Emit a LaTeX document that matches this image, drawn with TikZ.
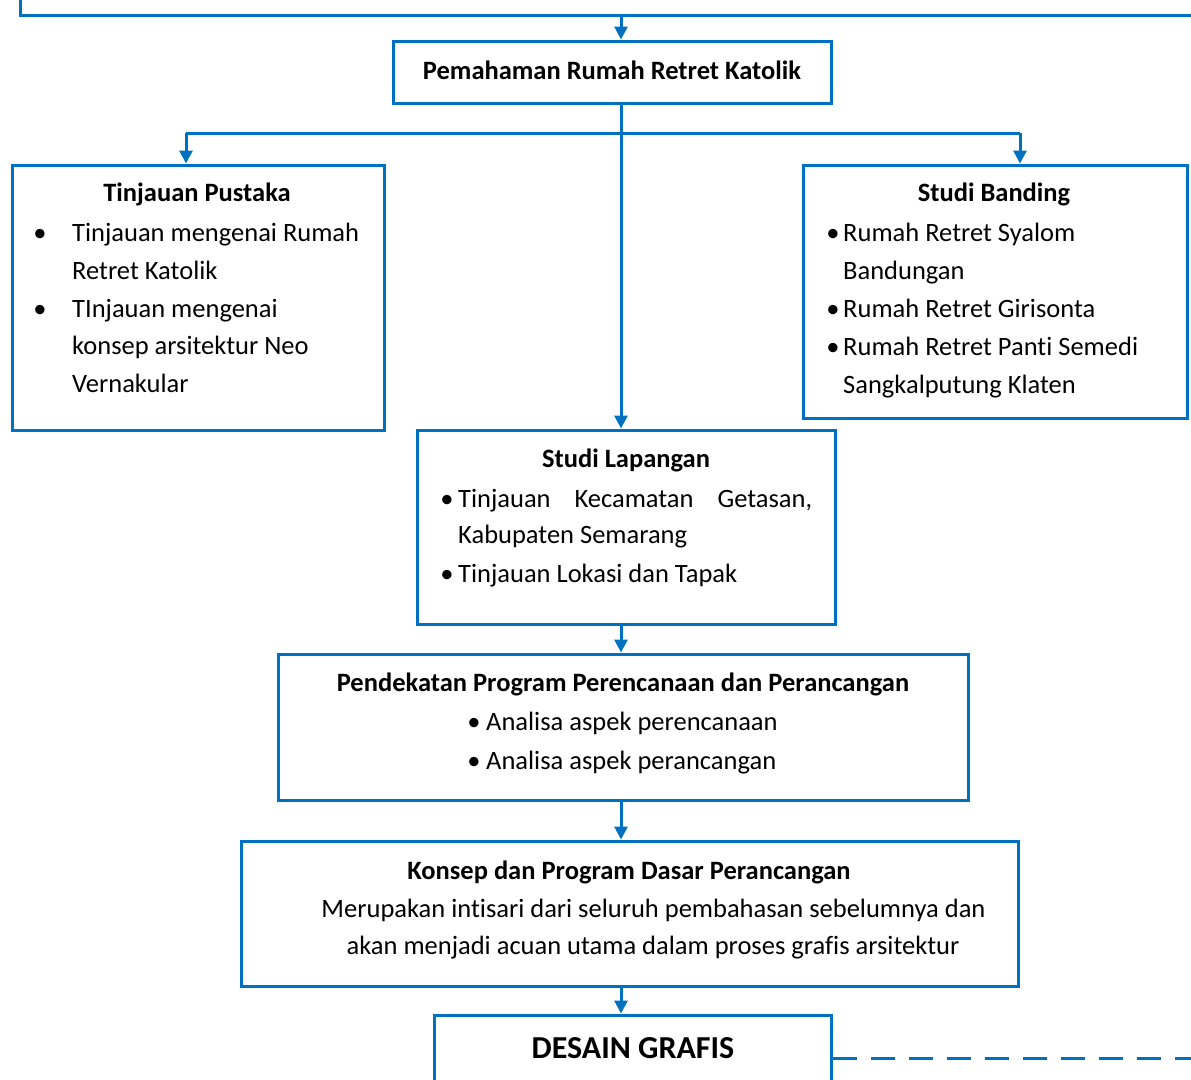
\documentclass[tikz,border=0pt]{standalone}
\usepackage{fontspec}
\setmainfont{Carlito}[Ligatures=NoCommon]
\usetikzlibrary{arrows.meta}
\definecolor{boxblue}{HTML}{0070C0}
\begin{document}
\begin{tikzpicture}[x=1pt,y=-1pt,
  box/.style={draw=boxblue,line width=3pt,inner sep=0pt},
  conn/.style={draw=boxblue,line width=3pt},
  arr/.style={conn,-{Triangle[width=13pt,length=13pt]}},
  tx/.style={inner sep=0pt,anchor=base west,font=\fontsize{26.5}{38}\selectfont},
  tc/.style={inner sep=0pt,anchor=base,font=\fontsize{26.5}{38}\selectfont},
  tb/.style={inner sep=0pt,anchor=base,font=\fontsize{26.5}{38}\selectfont\bfseries},
  bul/.style={inner sep=0pt,anchor=base,font=\fontsize{26.5}{38}\selectfont}]
\useasboundingbox (0,0) rectangle (1191,1079);
\clip (0,0) rectangle (1191,1079);
% boxes
\node[box,minimum width=1200,minimum height=60] (top) at (620,-15) {};
\node[box,minimum width=438,minimum height=62] (pem) at (612,72) {};
\node[box,minimum width=372,minimum height=265] (tp) at (198,297.5) {};
\node[box,minimum width=384,minimum height=253] (sb) at (995,291.5) {};
\node[box,minimum width=418,minimum height=194] (sl) at (626,527) {};
\node[box,minimum width=690,minimum height=146] (pd) at (623,727) {};
\node[box,minimum width=777,minimum height=145] (ks) at (629.5,913.5) {};
\node[box,minimum width=397,minimum height=86] (dg) at (632.5,1058) {};
% coordinates
\coordinate (spine) at (621,0);
\coordinate (brL) at (186,133);
\coordinate (brR) at (1020,133);
\coordinate (dashEnd) at (1200,1058);
% connectors
\draw[arr] (spine |- top.south) -- (spine |- pem.north);
\draw[arr] (spine |- pem.south) -- (spine |- sl.north);
\draw[conn] (brL) -- (brR);
\draw[arr] (brL) -- (brL |- tp.north);
\draw[arr] (brR) -- (brR |- sb.north);
\draw[arr] (spine |- sl.south) -- (spine |- pd.north);
\draw[arr] (spine |- pd.south) -- (spine |- ks.north);
\draw[arr] (spine |- ks.south) -- (spine |- dg.north);
\draw[conn,dash pattern=on 24pt off 14pt] (dg.east) -- (dashEnd);
% texts
\node[tb] (pemT) at (612,79) {Pemahaman Rumah Retret Katolik};
% Tinjauan Pustaka
\node[tb] (tpT) at (197,201) {Tinjauan Pustaka};
\node[bul] (tpB1) at (40,241) {•};
\node[tx] (tp1) at (72,241) {Tinjauan mengenai Rumah};
\node[tx] (tp2) at (72,279) {Retret Katolik};
\node[bul] (tpB2) at (40,317) {•};
\node[tx] (tp3) at (72,317) {TInjauan mengenai};
\node[tx] (tp4) at (72,354) {konsep arsitektur Neo};
\node[tx] (tp5) at (72,392) {Vernakular};
% Studi Banding
\node[tb] (sbT) at (994,201) {Studi Banding};
\node[bul] (sbB1) at (833,241) {•};
\node[tx] (sb1) at (843,241) {Rumah Retret Syalom};
\node[tx] (sb2) at (843,279) {Bandungan};
\node[bul] (sbB2) at (833,317) {•};
\node[tx] (sb3) at (843,317) {Rumah Retret Girisonta};
\node[bul] (sbB3) at (833,355) {•};
\node[tx] (sb4) at (843,355) {Rumah Retret Panti Semedi};
\node[tx] (sb5) at (843,393) {Sangkalputung Klaten};
% Studi Lapangan
\node[tb] (slT) at (626,467) {Studi Lapangan};
\node[bul] (slB1) at (447,507) {•};
\node[tx] (sl1) at (458,507) {\makebox[354pt][s]{Tinjauan Kecamatan Getasan,}};
\node[tx] (sl2) at (458,543) {Kabupaten Semarang};
\node[bul] (slB2) at (447,582) {•};
\node[tx] (sl3) at (458,582) {Tinjauan Lokasi dan Tapak};
% Pendekatan
\node[tb] (pdT) at (623,691) {Pendekatan Program Perencanaan dan Perancangan};
\node[bul] (pdB1) at (474,730) {•};
\node[tx] (pd1) at (486,730) {Analisa aspek perencanaan};
\node[bul] (pdB2) at (474,769) {•};
\node[tx] (pd2) at (486,769) {Analisa aspek perancangan};
% Konsep
\node[tb] (ksT) at (629,879) {Konsep dan Program Dasar Perancangan};
\node[tc] (ks1) at (653.5,917) {Merupakan intisari dari seluruh pembahasan sebelumnya dan};
\node[tc] (ks2) at (653,954) {akan menjadi acuan utama dalam proses grafis arsitektur};
% Desain
\node[inner sep=0pt,anchor=base,font=\fontsize{32}{38}\selectfont\bfseries] (dgT) at (633,1058) {DESAIN GRAFIS};
\end{tikzpicture}
\end{document}
